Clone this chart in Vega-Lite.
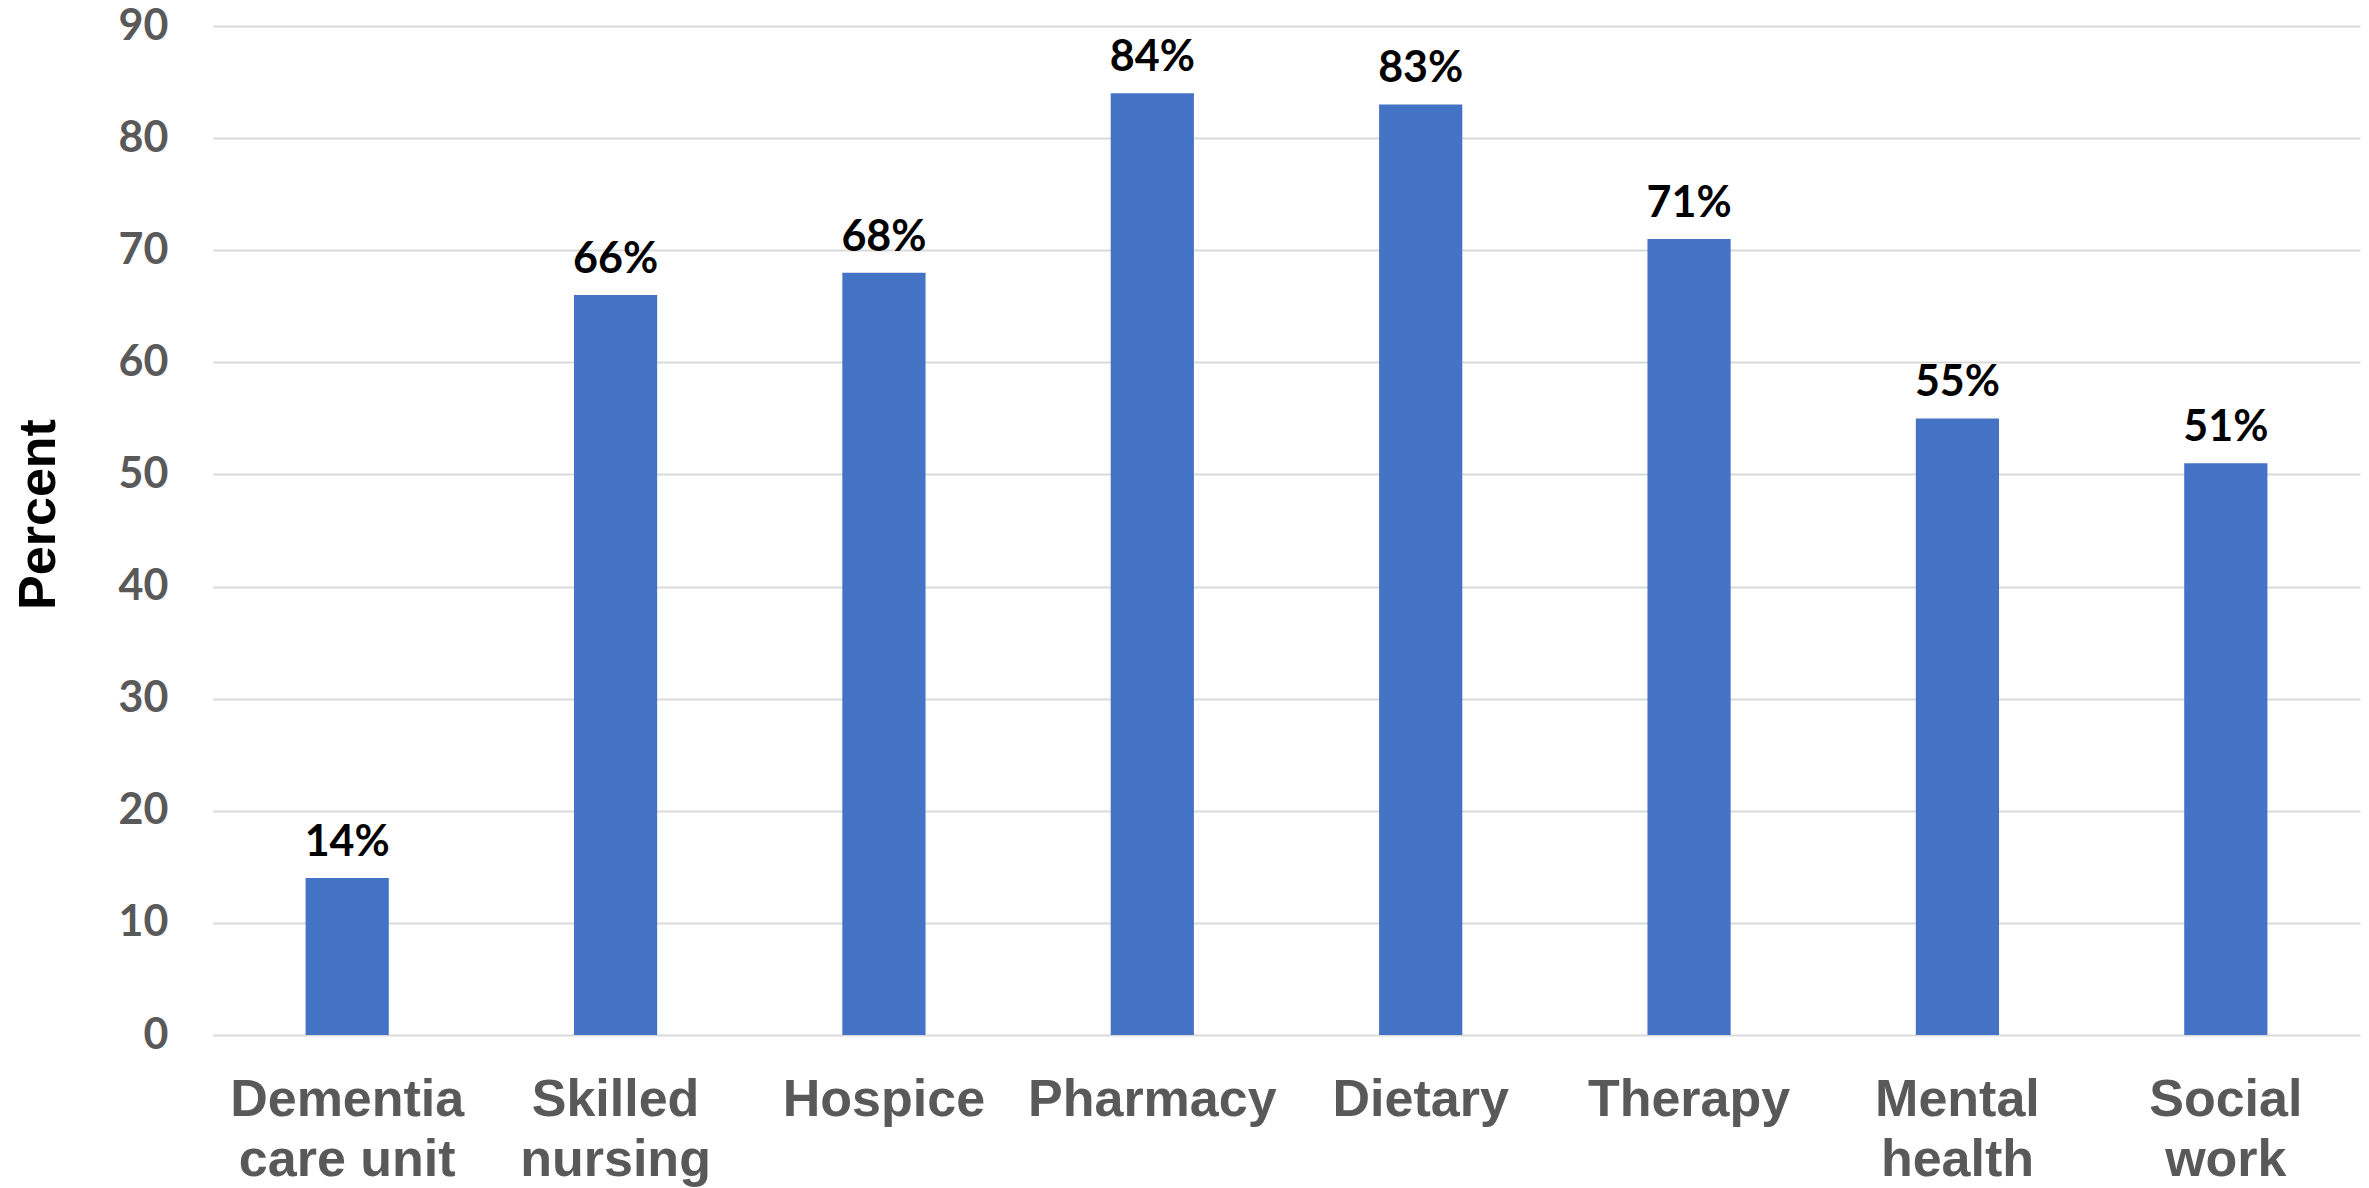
{
  "$schema": "https://vega.github.io/schema/vega-lite/v6.json",
  "autosize": "none",
  "width": 2147,
  "height": 1009,
  "padding": {"left": 213, "top": 26, "right": 9, "bottom": 153},
  "background": "white",
  "config": {"view": {"stroke": null}},
  "data": {
    "values": [
      {"service": "Dementia\ncare unit", "percent": 14},
      {"service": "Skilled\nnursing", "percent": 66},
      {"service": "Hospice", "percent": 68},
      {"service": "Pharmacy", "percent": 84},
      {"service": "Dietary", "percent": 83},
      {"service": "Therapy", "percent": 71},
      {"service": "Mental\nhealth", "percent": 55},
      {"service": "Social\nwork", "percent": 51}
    ]
  },
  "encoding": {
    "x": {
      "field": "service",
      "type": "nominal",
      "sort": null,
      "scale": {"paddingInner": 0.69, "paddingOuter": 0.345},
      "axis": {
        "title": null,
        "domain": false,
        "ticks": false,
        "tickSize": 0,
        "labelAngle": 0,
        "labelPadding": 39,
        "labelFont": "Liberation Sans",
        "labelFontWeight": "bold",
        "labelFontSize": 52,
        "labelColor": "#595959",
        "labelLineHeight": 60,
        "labelLimit": 400,
        "labelOverlap": false,
        "labelExpr": "split(datum.label, '\\n')"
      }
    },
    "y": {
      "field": "percent",
      "type": "quantitative",
      "scale": {"domain": [0, 90], "nice": false},
      "axis": {
        "title": "Percent",
        "titleFont": "Liberation Sans",
        "titleFontWeight": "bold",
        "titleFontSize": 52,
        "titleColor": "black",
        "titleBaseline": "alphabetic",
        "titleX": -159,
        "titleY": 488,
        "values": [0, 10, 20, 30, 40, 50, 60, 70, 80, 90],
        "domain": false,
        "ticks": false,
        "tickSize": 0,
        "grid": true,
        "gridColor": "#d9d9d9",
        "gridWidth": 2,
        "labelPadding": 45,
        "labelFont": "Lato",
        "labelFontWeight": "bold",
        "labelFontSize": 43,
        "labelColor": "#595959"
      }
    }
  },
  "layer": [
    {
      "mark": {"type": "bar", "color": "#4472C4"}
    },
    {
      "mark": {
        "type": "text",
        "baseline": "alphabetic",
        "dy": -22,
        "font": "Lato",
        "fontWeight": "bold",
        "fontSize": 43,
        "color": "black",
        "text": {"expr": "datum.percent + '%'"}
      }
    }
  ]
}
